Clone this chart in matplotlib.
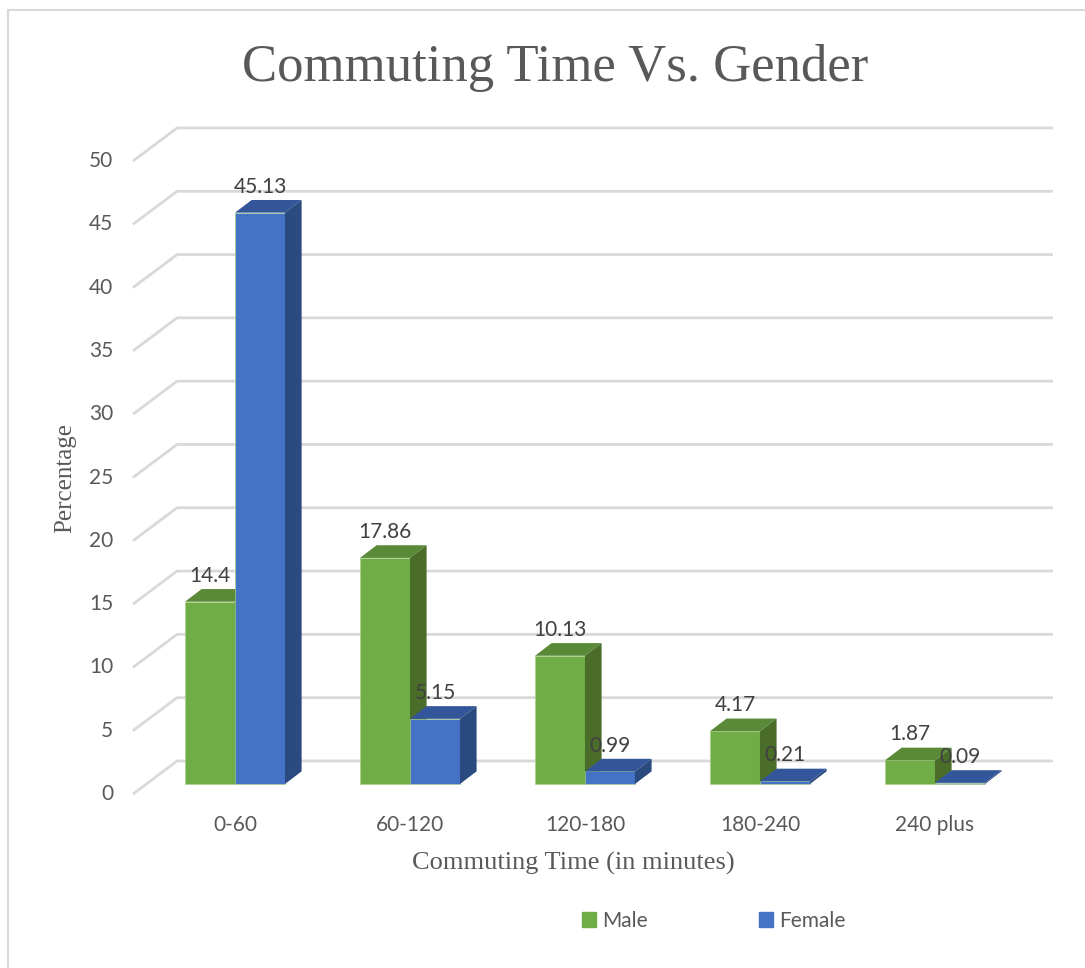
import matplotlib
matplotlib.use("Agg")
import matplotlib.pyplot as plt
from matplotlib.patches import Polygon, Patch
from matplotlib.lines import Line2D

# data
categories = ["0-60", "60-120", "120-180", "180-240", "240 plus"]
male = [14.4, 17.86, 10.13, 4.17, 1.87]
female = [45.13, 5.15, 0.99, 0.21, 0.09]
yticks = list(range(0, 51, 5))

green = ("#70AD47", "#5A8A37", "#4A6E2A")   # front, top, side
blue = ("#4472C4", "#33569A", "#2B4A80")
grid_c = "#D9D9D9"
txt_c = "#595959"
sans = "Lato"
serif = "Liberation Serif"

W, H = 1085, 968
fig = plt.figure(figsize=(W / 100, H / 100), dpi=100)
ax = fig.add_axes([130 / W, 1 - 800 / H, 925 / W, 680 / H])
ax.set_xlim(-0.6, 4.686)
ax.set_ylim(-1.264, 52.45)
ax.axis("off")

# 3d look: bar depth and wall offsets (data units)
w = 0.2857
ddx, ddy = 0.095, 1.0
front_x, back_x, right_x = -0.583, -0.331, 4.674
front_dy, back_dy = -0.79, 1.82

for v in yticks:
    ax.plot([front_x, back_x, right_x], [v + front_dy, v + back_dy, v + back_dy],
            color=grid_c, lw=2, zorder=1, solid_capstyle="butt")
    ax.text(-0.697, v + front_dy, str(v), ha="right", va="center",
            fontsize=15, color=txt_c, family=sans)


def bar3d(x0, h, cols, z):
    ax.bar(x0, h, width=w, align="edge", color=cols[0], edgecolor="#A9D18E",
           linewidth=0.5, zorder=z)
    top = [(x0, h), (x0 + w, h), (x0 + w + ddx, h + ddy), (x0 + ddx, h + ddy)]
    side = [(x0 + w, 0), (x0 + w + ddx, ddy), (x0 + w + ddx, h + ddy), (x0 + w, h)]
    ax.add_patch(Polygon(top, closed=True, facecolor=cols[1], edgecolor="none", zorder=z))
    ax.add_patch(Polygon(side, closed=True, facecolor=cols[2], edgecolor="none", zorder=z))
    ax.text(x0 + w / 2, h + 2.05, str(h), ha="center", va="center",
            fontsize=15, color="#404040", family=sans, zorder=30)


for i, (m, f) in enumerate(zip(male, female)):
    bar3d(i - w, m, green, 3 + 2 * i)
    bar3d(i, f, blue, 4 + 2 * i)
    ax.text(i, -3.24, categories[i], ha="center", va="center",
            fontsize=15, color=txt_c, family=sans)

fig.text(555 / W, 1 - 68 / H, "Commuting Time Vs. Gender", ha="center", va="center",
         fontsize=38, color=txt_c, family=serif)
fig.text(573 / W, 1 - 863 / H, "Commuting Time (in minutes)", ha="center", va="center",
         fontsize=19, color=txt_c, family=serif)
fig.text(65 / W, 1 - 478 / H, "Percentage", ha="center", va="center", rotation=90,
         fontsize=18, color=txt_c, family=serif)

handles = [Patch(color=green[0], label="Male"), Patch(color=blue[0], label="Female")]
fig.legend(handles=handles, loc="center left", bbox_to_anchor=(563 / W, 1 - 921 / H),
           ncol=2, frameon=False, handlelength=0.7, handleheight=0.7,
           handletextpad=0.3, columnspacing=5.3,
           prop={"family": sans, "size": 15}, labelcolor=txt_c)

# chart border (light frame at top/left)
fig.add_artist(Line2D([8 / W, 8 / W], [0, 1 - 10 / H], color=grid_c, lw=1.5))
fig.add_artist(Line2D([8 / W, 1], [1 - 10 / H, 1 - 10 / H], color=grid_c, lw=1.5))

fig.savefig("out.png", dpi=100)
